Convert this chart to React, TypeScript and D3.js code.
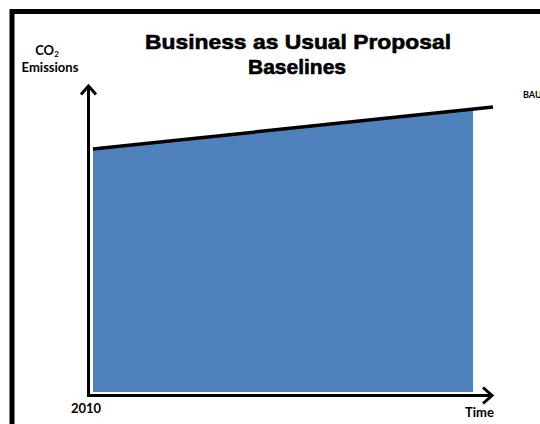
import React from "react";
import * as d3 from "d3";

const W = 540;
const H = 424;

// BAU baseline line (extends past the filled area)
const bauYears = [2010, 2050];
const bauValues = [81, 95];
// Filled emissions area
const fillYears = [2010, 2048];
const fillValues = [81, 94.3];

const titleLines = ["Business as Usual Proposal", "Baselines"];
const yLabel = ["CO", "Emissions"];
const xStartLabel = "2010";
const xEndLabel = "Time";
const lineLabel = "BAU";

export default function App() {
  const x = d3.scaleLinear().domain([2010, 2050]).range([93, 493]);
  const y = d3.scaleLinear().domain([0, 100]).range([392, 92]);

  const area = d3
    .area<number>()
    .x((_, i) => x(fillYears[i]))
    .y0(() => y(0))
    .y1((d) => y(d));
  const line = d3
    .line<number>()
    .x((_, i) => x(bauYears[i]))
    .y((d) => y(d));

  const axisX = 88.5;
  const axisY = 395.5;

  return (
    <svg
      width={W}
      height={H}
      style={{ position: "absolute", left: 0, top: 0, background: "#fff" }}
    >
      {/* frame */}
      <path d={`M12,${H + 5} L12,11.5 L${W + 5},11.5`} fill="none" stroke="#000" strokeWidth={5} />

      {/* fill */}
      <path d={area(fillValues) || ""} fill="#4F81BD" />
      {/* BAU line */}
      <path d={line(bauValues) || ""} fill="none" stroke="#000" strokeWidth={3.5} />

      {/* axes */}
      <line x1={axisX} y1={axisY + 1.5} x2={axisX} y2={86} stroke="#000" strokeWidth={3} />
      <polyline points={`${axisX - 7.5},94.5 ${axisX},86 ${axisX + 7.5},94.5`} fill="none" stroke="#000" strokeWidth={3} />
      <line x1={axisX - 1.5} y1={axisY} x2={492} y2={axisY} stroke="#000" strokeWidth={3} />
      <polyline points={`483,${axisY - 8} 492,${axisY} 483,${axisY + 8}`} fill="none" stroke="#000" strokeWidth={3} />

      {/* title */}
      <g fontFamily="'Liberation Sans', Arial, sans-serif" fontWeight="bold" fontSize={21} textAnchor="middle" fill="#000" stroke="#000" strokeWidth={0.6}>
        <text x={298} y={49} textLength={306} lengthAdjust="spacingAndGlyphs">{titleLines[0]}</text>
        <text x={297} y={74}>{titleLines[1]}</text>
      </g>

      {/* labels */}
      <g fontFamily="Lato, 'Open Sans', sans-serif" fontWeight="bold" fill="#000">
        <text x={47} y={55} fontSize={13} textAnchor="middle">
          {yLabel[0]}
          <tspan fontSize={8} dy={2}>2</tspan>
        </text>
        <text x={50} y={72} fontSize={13} textAnchor="middle">{yLabel[1]}</text>
        <text x={71} y={413} fontSize={13}>{xStartLabel}</text>
        <text x={465} y={417} fontSize={13}>{xEndLabel}</text>
        <text x={523} y={98} fontSize={9}>{lineLabel}</text>
      </g>
    </svg>
  );
}
